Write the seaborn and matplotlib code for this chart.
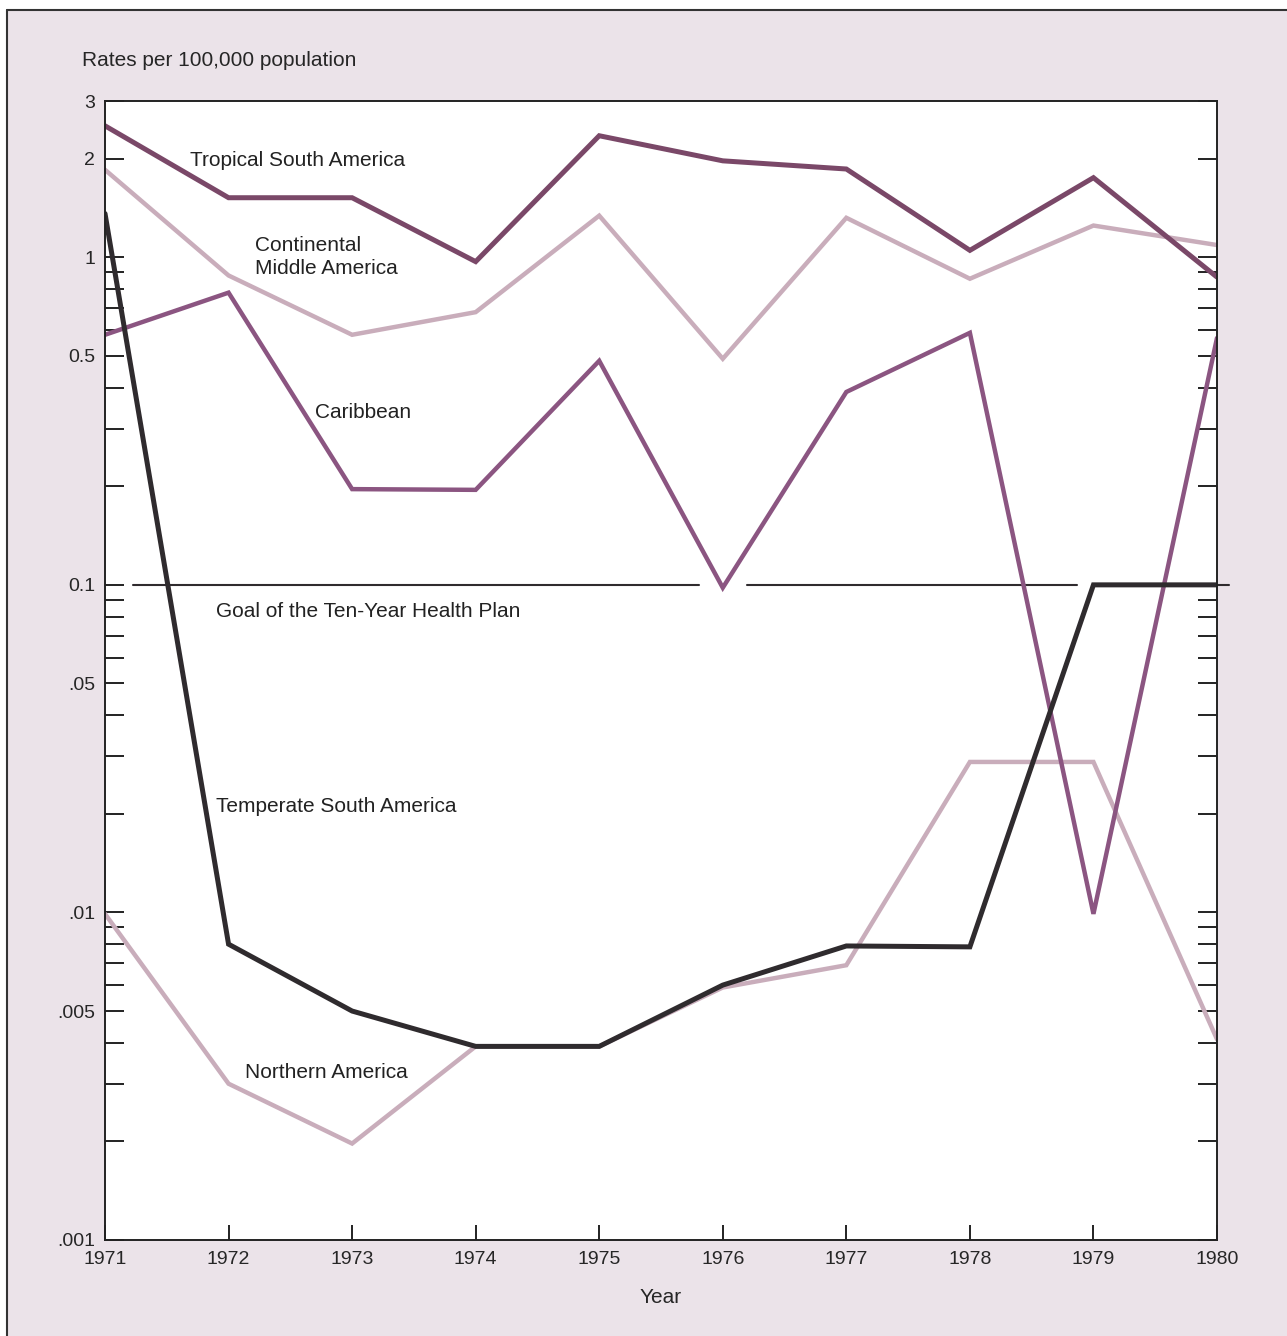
import matplotlib
matplotlib.use("Agg")
import matplotlib.pyplot as plt
import matplotlib.ticker as mticker
from matplotlib.patches import Rectangle
from matplotlib.lines import Line2D
import seaborn as sns
import pandas as pd

sns.set_style("white")
plt.rcParams["font.family"] = ["Liberation Sans", "DejaVu Sans"]

YEARS = list(range(1971, 1981))

tropical = [2.52, 1.52, 1.52, 0.97, 2.35, 1.97, 1.86, 1.05, 1.75, 0.87]
continental = [1.85, 0.88, 0.58, 0.68, 1.34, 0.49, 1.32, 0.86, 1.25, 1.09]
caribbean = [0.58, 0.78, 0.196, 0.195, 0.483, 0.098, 0.388, 0.588, 0.0099, 0.567]
temperate = [1.36, 0.0080, 0.0050, 0.0039, 0.0039, 0.0060, 0.0079, 0.00785, 0.1, 0.1]
northern = [0.0099, 0.0030, 0.00197, 0.0039, 0.0039, 0.0059, 0.0069, 0.0288, 0.0288, 0.0041]

GOAL = 0.1
goal_segments = [(1971.23, 1975.81), (1976.2, 1978.87), (1980.0, 1980.1)]

y_ticks = [0.001, 0.002, 0.003, 0.004, 0.005, 0.006, 0.007, 0.008, 0.009,
           0.01, 0.02, 0.03, 0.04, 0.05, 0.06, 0.07, 0.08, 0.09,
           0.1, 0.2, 0.3, 0.4, 0.5, 0.6, 0.7, 0.8, 0.9, 1, 2, 3]
y_labels = {0.001: ".001", 0.005: ".005", 0.01: ".01", 0.05: ".05", 0.1: "0.1",
            0.5: "0.5", 1: "1", 2: "2", 3: "3"}

series = [
    # name, values, color, width
    ("Northern America", northern, "#c9adbb", 3.2),
    ("Continental Middle America", continental, "#c9adbb", 3.2),
    ("Caribbean", caribbean, "#8b5581", 3.2),
    ("Tropical South America", tropical, "#7a4868", 3.6),
    ("Temperate South America", temperate, "#2f2b2e", 3.6),
]

bg = "#ebe3e9"
fig = plt.figure(figsize=(12.87, 13.36), dpi=100, facecolor="white")

# lavender panel with a border on the top and left edges
fx, fy = 7 / 1287, 1 - 10 / 1336
fig.patches.append(Rectangle((fx, 0), 1 - fx, fy, transform=fig.transFigure,
                             facecolor=bg, edgecolor="none", zorder=-10))
fig.lines.append(Line2D([fx, 1], [fy, fy], transform=fig.transFigure,
                        color="#333333", lw=1.5, zorder=-5))
fig.lines.append(Line2D([fx, fx], [0, fy], transform=fig.transFigure,
                        color="#333333", lw=1.5, zorder=-5))

ax = fig.add_axes([105 / 1287, 1 - 1240 / 1336, 1112 / 1287, 1139 / 1336])
ax.set_facecolor("white")

for s, e in goal_segments:
    ax.plot([s, e], [GOAL, GOAL], color="#2f2b2e", lw=1.5, clip_on=False, zorder=1)

for name, vals, col, lw in series:
    df = pd.DataFrame({"year": YEARS, "rate": vals})
    sns.lineplot(data=df, x="year", y="rate", color=col, lw=lw, ax=ax,
                 solid_joinstyle="miter", zorder=2)

ax.set_yscale("log")
ax.set_ylim(0.001, 3)
ax.set_xlim(1971, 1980)
ax.yaxis.set_major_locator(mticker.FixedLocator(y_ticks))
ax.yaxis.set_major_formatter(mticker.FuncFormatter(
    lambda v, p: next((lab for k, lab in y_labels.items() if abs(v - k) / k < 1e-6), "")))
ax.yaxis.set_minor_locator(mticker.NullLocator())
ax.set_xticks(YEARS)
ax.set_xticklabels([str(y) for y in YEARS])

ax.tick_params(axis="y", which="major", direction="in", left=True, right=True,
               length=14, width=1.4, labelsize=14, pad=7, color="#222222")
ax.tick_params(axis="x", direction="in", bottom=True, length=11, width=1.4,
               labelsize=14, pad=8, color="#222222")
for sp in ax.spines.values():
    sp.set_linewidth(1.4)
    sp.set_color("#222222")

ax.set_xlabel("Year", fontsize=15, labelpad=14)
ax.set_ylabel("")
fig.text(82 / 1287, 1 - 61 / 1336, "Rates per 100,000 population", fontsize=15,
         va="center", ha="left")

lab_kw = dict(fontsize=15, va="center", ha="left", color="#222222")
ax.text(1971.69, 1.97, "Tropical South America", **lab_kw)
ax.text(1972.21, 1.0, "Continental\nMiddle America", linespacing=1.25, **lab_kw)
ax.text(1972.7, 0.337, "Caribbean", **lab_kw)
ax.text(1971.9, 0.0832, "Goal of the Ten-Year Health Plan", **lab_kw)
ax.text(1971.9, 0.0211, "Temperate South America", **lab_kw)
ax.text(1972.13, 0.00324, "Northern America", **lab_kw)

fig.savefig("out.png", dpi=100, facecolor="white")
